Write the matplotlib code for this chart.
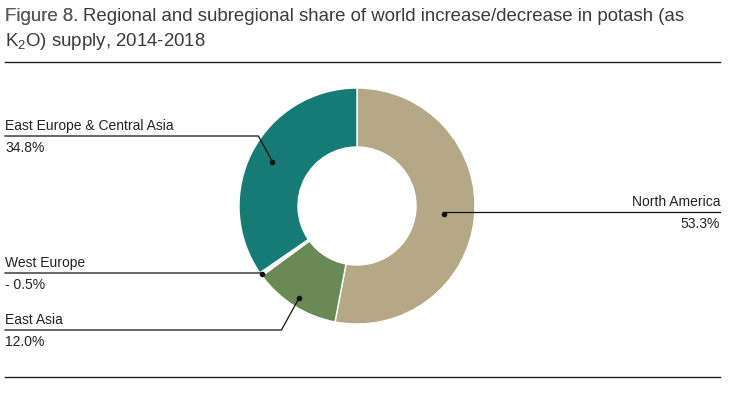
import matplotlib
matplotlib.use("Agg")
import matplotlib.pyplot as plt
import numpy as np

categories = ["North America", "East Asia", "West Europe", "East Europe & Central Asia"]
shares = [53.3, 12.0, -0.5, 34.8]
value_labels = ["53.3%", "12.0%", "- 0.5%", "34.8%"]
colors = ["#b5a887", "#6a8a55", "#ffffff", "#177b75"]

plt.rcParams['font.family'] = ['Liberation Sans', 'DejaVu Sans']
plt.rcParams['mathtext.default'] = 'regular'

W, H = 732, 395
fig = plt.figure(figsize=(W / 100, H / 100), dpi=100)
ax = fig.add_axes([0, 0, 1, 1])

def Y(y):
    return H - y

cx, cy, R = 357, Y(206), 118
wedges, _ = ax.pie([abs(v) for v in shares], startangle=90, counterclock=False,
                   radius=R, center=(cx, cy), colors=colors,
                   wedgeprops=dict(width=R * 0.5, edgecolor='white', linewidth=1.0),
                   frame=True)
ax.set_xlim(0, W)
ax.set_ylim(0, H)
ax.set_aspect('equal')
ax.axis('off')

title_color = "#3a3a3a"
fs_t = 13.4
t0 = fig.text(5 / W, 1 - 8 / H, "Figure 8. ", fontsize=fs_t, color="#5a5a5a", va='top',
              ha='left', fontweight='light')
t1 = "Regional and subregional share of world increase/decrease in potash (as"
fig.texts.append(t0)
ax.annotate(t1, xy=(1, 0), xycoords=t0, va='bottom', ha='left', fontsize=fs_t,
            color=title_color, annotation_clip=False)
fig.text(5 / W, 1 - 31 / H, "K$_2$O) supply, 2014-2018", fontsize=fs_t, color=title_color,
         va='top', ha='left')

ax.plot([5, 720], [Y(62), Y(62)], color="#222222", lw=1)
ax.plot([5, 720], [Y(377), Y(377)], color="#222222", lw=1)

# annotation geometry: radius fraction for the dot, label line y (image px)
dot_r = [0.74, 0.92, 0.99, 0.81]
line_y = [212, 330, 273, 136]
side = ['right', 'left', 'left', 'left']
text_c = "#222222"
fs_l = 10
for w, cat, lab, rf, ly, sd in zip(wedges, categories, value_labels, dot_r, line_y, side):
    mid = np.deg2rad((w.theta1 + w.theta2) / 2)
    dx, dy = cx + rf * R * np.cos(mid), cy + rf * R * np.sin(mid)
    ax.plot(dx, dy, 'o', color='#111111', ms=3, zorder=5)
    if sd == 'right':
        ax.plot([dx, 720], [Y(ly), Y(ly)], color='#111111', lw=0.9, zorder=4)
        ax.text(720, Y(ly) + 3, cat, ha='right', va='bottom', fontsize=fs_l, color=text_c)
        ax.text(720, Y(ly) - 5, lab, ha='right', va='top', fontsize=fs_l, color=text_c)
    else:
        ex = dx - abs(Y(ly) - dy) * 0.55
        ax.plot([dx, ex, 5], [dy, Y(ly), Y(ly)], color='#111111', lw=0.9, zorder=4)
        ax.text(5, Y(ly) + 3, cat, ha='left', va='bottom', fontsize=fs_l, color=text_c)
        ax.text(5, Y(ly) - 5, lab, ha='left', va='top', fontsize=fs_l, color=text_c)

fig.savefig("out.png", dpi=100)
